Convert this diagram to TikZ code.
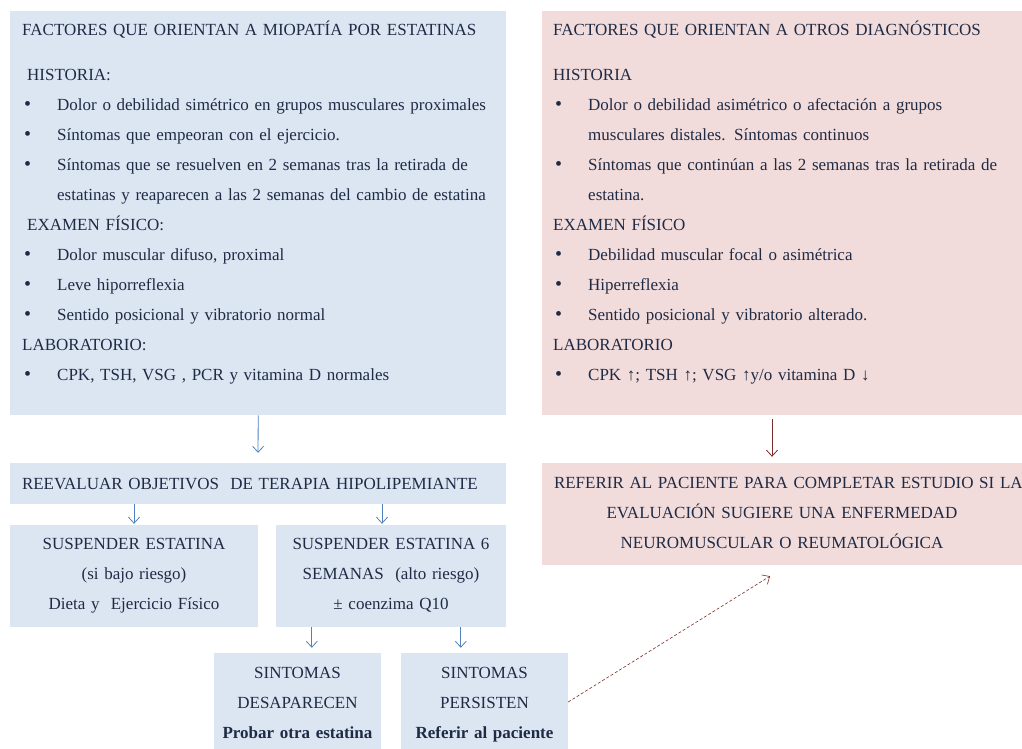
\documentclass[tikz,border=0pt]{standalone}
\usepackage{fontspec}
\setmainfont{Liberation Serif}
\usetikzlibrary{positioning,arrows.meta}
\definecolor{boxblue}{HTML}{DCE6F2}
\definecolor{boxpink}{HTML}{F2DCDB}
\definecolor{txtnavy}{HTML}{1F2B45}
\definecolor{arrblue}{HTML}{4F81BD}
\definecolor{arrred}{HTML}{7B2C2C}
\newcommand{\itm}[1]{\makebox[35pt][l]{\hspace*{2pt}{\fontsize{20}{30}\selectfont\textbullet}}#1}
\newcommand{\cont}[1]{\hspace*{35pt}#1}
\begin{document}
\begin{tikzpicture}[x=1pt,y=-1pt,
  every node/.style={text=txtnavy, font=\fontsize{17}{30}\selectfont},
  bluebox/.style={fill=boxblue, inner sep=0pt, anchor=north west},
  pinkbox/.style={fill=boxpink, inner sep=0pt, anchor=north west},
  listtxt/.style={anchor=base west, inner sep=0pt, align=left},
  flowbox/.style={fill=boxblue, inner sep=0pt, align=center,
    execute at begin node={\rule{0pt}{#1}}, execute at end node=\strut},
  bluearr/.style={-{Straight Barb[length=6pt,width=11pt]}, arrblue, thick},
  redarr/.style={-{Straight Barb[length=6pt,width=11pt]}, arrred, thick}]
 \useasboundingbox (0,0) rectangle (1022,749);
 % upper boxes
 \node[bluebox, minimum width=496pt, minimum height=404pt] (miobox) at (10,11) {};
 \node[pinkbox, minimum width=490pt, minimum height=404pt] (otrbox) at (542,11) {};
 \node[listtxt, text width=490pt] (miotxt) at (22,36) {FACTORES QUE ORIENTAN A MIOPATÍA POR ESTATINAS\\[15pt]
  \hspace*{5pt}HISTORIA:\\
  \itm{Dolor o debilidad simétrico en grupos musculares proximales}\\
  \itm{Síntomas que empeoran con el ejercicio.}\\
  \itm{Síntomas que se resuelven en 2 semanas tras la retirada de}\\
  \cont{estatinas y reaparecen a las 2 semanas del cambio de estatina}\\
  \hspace*{5pt}EXAMEN FÍSICO:\\
  \itm{Dolor muscular difuso, proximal}\\
  \itm{Leve hiporreflexia}\\
  \itm{Sentido posicional y vibratorio normal}\\
  LABORATORIO:\\
  \itm{CPK, TSH, VSG , PCR y vitamina D normales}};
 \node[listtxt, text width=468pt] (otrtxt) at (553,36) {FACTORES QUE ORIENTAN A OTROS DIAGNÓSTICOS\\[15pt]
  HISTORIA\\
  \itm{Dolor o debilidad asimétrico o afectación a grupos}\\
  \cont{musculares distales. Síntomas continuos}\\
  \itm{Síntomas que continúan a las 2 semanas tras la retirada de}\\
  \cont{estatina.}\\
  EXAMEN FÍSICO\\
  \itm{Debilidad muscular focal o asimétrica}\\
  \itm{Hiperreflexia}\\
  \itm{Sentido posicional y vibratorio alterado.}\\
  LABORATORIO\\
  \itm{CPK ↑; TSH ↑; VSG ↑y/o vitamina D ↓}};
 % flow
 \node[fill=boxblue, inner sep=12pt, minimum width=496pt, minimum height=41pt, text width=472pt, align=left] (reev) at (258,483.5) {REEVALUAR OBJETIVOS \ DE TERAPIA HIPOLIPEMIANTE};
 \node[flowbox=17pt, fill=boxpink, inner xsep=12pt, minimum height=102pt, text width=456pt] (refer) at (782,514) {\makebox[\linewidth][l]{REFERIR AL PACIENTE PARA COMPLETAR ESTUDIO SI LA}\\ EVALUACIÓN SUGIERE UNA ENFERMEDAD\\ NEUROMUSCULAR O REUMATOLÓGICA};
 \node[flowbox=15pt, text width=248pt, minimum height=102pt] (susp1) at (134,576) {SUSPENDER ESTATINA\\ (si bajo riesgo)\\ Dieta y \ Ejercicio Físico};
 \node[flowbox=15pt, text width=230pt, minimum height=102pt] (susp2) at (391,576) {SUSPENDER ESTATINA 6\\ SEMANAS \ (alto riesgo)\\ ± coenzima Q10};
 \node[flowbox=21pt, text width=167pt, minimum height=98pt] (sint1) at (297.5,702) {SINTOMAS\\ DESAPARECEN\\ \textbf{Probar otra estatina}};
 \node[flowbox=21pt, text width=167pt, minimum height=98pt] (sint2) at (484.5,702) {SINTOMAS\\ PERSISTEN\\ \textbf{Referir al paciente}};
 % connectors
 \draw[bluearr, shorten >=10pt] (miobox.south) -- (reev.north);
 \draw[redarr, shorten <=4pt, shorten >=6pt] (otrbox.south -| 772,0) -- (refer.north -| 772,0);
 \draw[bluearr, shorten >=1pt] (reev.south -| susp1.north) -- (susp1.north);
 \draw[bluearr, shorten >=1pt] ([xshift=-9pt]reev.south -| susp2.north) -- ([xshift=-9pt]susp2.north);
 \draw[bluearr, shorten >=5pt] ([xshift=36pt]susp2.south west) -- ([xshift=36pt]susp2.south west |- sint1.north);
 \draw[bluearr, shorten >=5pt] ([xshift=185pt]susp2.south west) -- ([xshift=185pt]susp2.south west |- sint2.north);
 \draw[redarr, dashed, dash pattern=on 3pt off 2pt, semithick] (sint2.east) -- ([xshift=-12pt, yshift=-11pt]refer.south);
\end{tikzpicture}
\end{document}
